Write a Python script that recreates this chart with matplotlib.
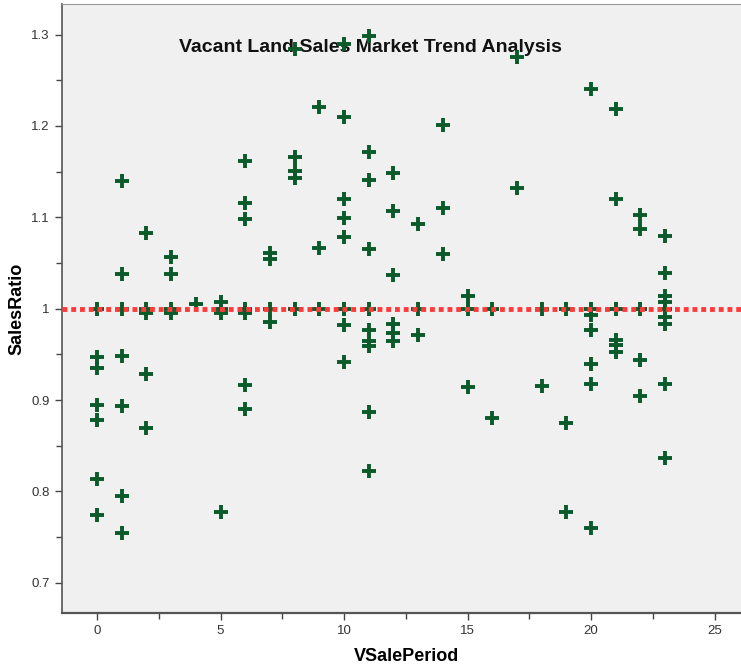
import numpy as np
import matplotlib.pyplot as plt
from matplotlib.ticker import MultipleLocator

# sale period (months) and the sales ratio of each vacant land sale
sale_period = [0]*7 + [1]*7 + [2]*5 + [3]*4 + [4] + [5]*4 + [6]*7 + [7]*4 \
    + [8]*5 + [9]*3 + [10]*8 + [11]*10 + [12]*6 + [13]*3 + [14]*3 \
    + [15]*3 + [16]*2 + [17]*2 + [18]*2 + [19]*3 + [20]*7 + [21]*6 \
    + [22]*5 + [23]*9
sales_ratio = [
    1.0, 0.947, 0.935, 0.895, 0.878, 0.814, 0.774,              # 0
    1.140, 1.038, 1.0, 0.948, 0.894, 0.795, 0.755,              # 1
    1.083, 1.0, 0.995, 0.929, 0.869,                            # 2
    1.057, 1.038, 1.0, 0.995,                                   # 3
    1.005,                                                      # 4
    1.007, 1.0, 0.995, 0.778,                                   # 5
    1.162, 1.116, 1.098, 1.0, 0.995, 0.917, 0.890,              # 6
    1.061, 1.054, 1.0, 0.986,                                   # 7
    1.284, 1.166, 1.151, 1.143, 1.0,                            # 8
    1.221, 1.066, 1.0,                                          # 9
    1.290, 1.210, 1.120, 1.099, 1.078, 1.0, 0.982, 0.942,       # 10
    1.299, 1.171, 1.141, 1.065, 1.0, 0.977, 0.965, 0.959,
    0.887, 0.822,                                               # 11
    1.148, 1.107, 1.037, 0.983, 0.973, 0.965,                   # 12
    1.093, 1.0, 0.971,                                          # 13
    1.201, 1.110, 1.060,                                        # 14
    1.014, 1.0, 0.914,                                          # 15
    1.0, 0.880,                                                 # 16
    1.275, 1.132,                                               # 17
    1.0, 0.915,                                                 # 18
    1.0, 0.875, 0.778,                                          # 19
    1.241, 1.0, 0.993, 0.977, 0.939, 0.918, 0.760,              # 20
    1.219, 1.120, 1.0, 0.966, 0.960, 0.953,                     # 21
    1.103, 1.087, 1.0, 0.944, 0.904,                            # 22
    1.080, 1.039, 1.014, 1.007, 1.0, 0.991, 0.983, 0.918, 0.837,  # 23
]
reference_ratio = 1.0
title = "Vacant Land Sales Market Trend Analysis"

plt.rcParams['font.family'] = ['Liberation Sans', 'DejaVu Sans']

fig = plt.figure(figsize=(7.41, 6.67), dpi=100)
fig.patch.set_facecolor('white')
ax = fig.add_axes([0.083, 0.081, 0.93, 0.913])
ax.set_facecolor('#f0f0f0')

# title sits inside the plot area, under the markers
ax.text(0.5, 0.929, title, transform=fig.transFigure, fontsize=14,
        fontweight='bold', ha='center', va='center', color='#111111',
        zorder=2)

ax.scatter(sale_period, sales_ratio, marker='+', s=110, linewidths=2.8,
           color='#0b5a2a', zorder=3)
ax.axhline(reference_ratio, color='#ff3a3a', lw=3.5, ls=(0, (1.0, 0.8)),
           zorder=4)

ax.set_xlim(-1.44, 26.46)
ax.set_ylim(0.667, 1.3335)
ax.xaxis.set_major_locator(MultipleLocator(5))
ax.xaxis.set_minor_locator(MultipleLocator(2.5))
ax.yaxis.set_minor_locator(MultipleLocator(0.05))
ax.set_yticks(np.arange(0.7, 1.31, 0.1))
ax.set_yticklabels(['0.7', '0.8', '0.9', '1', '1.1', '1.2', '1.3'])

ax.tick_params(which='both', direction='out', color='#444444', width=1,
               labelsize=9.5, labelcolor='#333333')
ax.tick_params(which='major', length=5)
ax.tick_params(which='minor', length=4)

for side in ['left', 'bottom', 'top']:
    ax.spines[side].set_color('#555555')
ax.spines['bottom'].set_linewidth(1.6)
ax.spines['left'].set_linewidth(1.2)
ax.spines['top'].set_color('#999999')
ax.spines['right'].set_visible(False)

ax.set_xlabel('VSalePeriod', fontsize=13, fontweight='bold', labelpad=8)
ax.set_ylabel('SalesRatio', fontsize=13, fontweight='bold', labelpad=4)

fig.savefig('out.png', dpi=100)
